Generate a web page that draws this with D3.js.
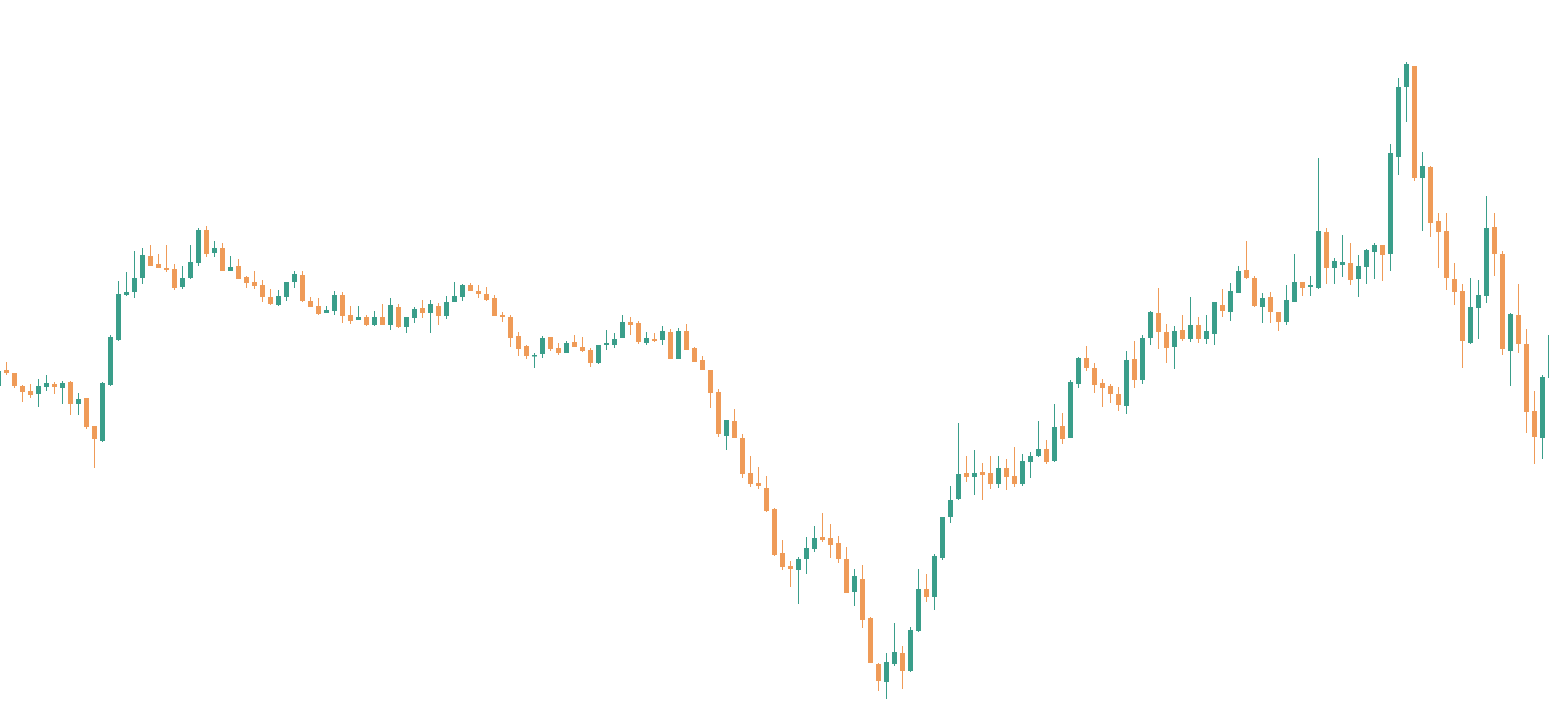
<!DOCTYPE html>
<html>
<head>
<meta charset="utf-8">
<script src="https://cdn.jsdelivr.net/npm/d3@7"></script>
<style>
html,body{margin:0;padding:0;background:#fff;overflow:hidden;}
svg{display:block;}
</style>
</head>
<body>
<svg id="chart" width="1549" height="713"></svg>
<script>
// OHLC series (price units), one entry per session
const open = [614,630,627,614,609,606,613,616,612,618,596,602,574,559,615,660,705,708,722,744,736,732,731,713,722,737,770,747,752,729,734,723,718,715,703,695,703,718,725,699,694,687,689,705,685,680,683,675,683,675,693,673,682,692,687,694,684,698,703,715,709,706,702,685,683,664,654,644,646,663,652,647,658,653,650,637,655,655,662,678,677,657,661,660,668,641,669,652,640,630,608,564,579,562,527,517,512,491,447,434,430,441,451,463,462,457,441,408,421,382,336,318,336,347,329,369,411,403,442,483,501,527,523,528,527,516,532,524,516,538,544,551,539,574,562,616,642,632,617,614,606,594,641,620,662,687,668,653,670,661,675,661,666,695,688,707,730,722,693,703,688,678,698,718,713,712,768,732,735,737,721,733,748,755,746,843,913,934,822,833,779,769,721,709,657,692,704,773,746,649,685,656,589,562,622];
const high = [629,638,627,615,616,621,625,618,619,619,607,602,574,618,665,719,728,749,752,755,746,755,736,734,755,772,774,759,757,744,741,724,729,720,711,710,718,729,729,703,702,694,709,708,694,694,685,689,696,702,696,683,693,700,700,697,704,718,716,717,715,713,705,688,685,668,655,647,664,663,657,659,665,663,652,655,670,667,685,683,679,668,667,674,671,672,676,653,644,630,611,580,591,566,544,533,524,492,460,439,443,463,474,487,476,464,453,431,435,383,337,347,377,354,373,431,426,446,483,514,577,544,550,537,544,544,541,553,546,548,579,560,596,587,620,643,654,637,621,616,613,649,659,665,689,712,676,674,685,703,683,685,698,711,717,734,759,724,707,708,688,715,746,718,724,842,772,742,765,757,745,751,757,755,856,922,938,934,848,834,787,787,737,716,722,720,804,787,749,687,716,671,609,625,665];
const low = [614,625,612,598,602,593,609,606,596,585,585,571,532,558,614,659,704,702,716,734,732,728,710,711,721,734,743,743,729,729,721,712,711,698,695,694,699,712,698,693,685,687,685,677,676,680,674,674,675,670,672,667,677,682,667,675,681,698,699,709,702,699,684,678,653,644,641,632,642,649,645,647,653,648,633,636,650,652,662,665,656,655,658,655,641,641,650,638,630,592,563,550,562,522,513,511,488,444,430,413,396,426,448,458,442,437,407,394,372,337,309,301,334,311,328,368,398,390,440,477,500,518,505,500,511,512,510,513,514,522,543,536,538,556,562,612,629,607,593,597,589,586,612,616,655,651,637,631,659,658,657,656,655,683,679,707,721,693,677,677,669,675,698,704,704,711,716,716,723,715,703,716,721,719,729,825,878,819,769,763,732,710,695,632,656,661,697,724,645,614,647,567,536,541,622];
const close = [629,627,614,608,605,614,617,613,617,596,601,573,561,617,663,706,708,722,745,734,732,730,712,722,738,770,746,752,729,733,721,717,714,703,696,704,718,726,699,693,686,690,705,684,679,683,675,683,675,695,673,683,691,687,696,684,698,704,715,709,706,700,684,683,662,651,644,645,662,651,647,657,653,649,637,655,657,661,678,675,658,662,659,669,641,669,650,638,630,607,566,580,562,526,516,514,489,445,433,431,441,452,462,460,455,441,407,424,380,337,319,338,348,329,370,411,403,444,483,500,526,523,527,525,516,532,523,516,539,544,551,538,573,561,618,642,632,615,612,606,595,640,620,662,688,668,652,669,661,675,661,669,698,689,709,729,722,694,702,688,678,700,718,712,715,769,732,739,738,720,734,750,755,745,847,913,936,822,834,777,768,722,708,659,693,705,772,746,651,686,656,588,563,623,665];

const W = 1549, H = 713;
const N = open.length;
const candles = d3.range(N).map(i => ({i, o: open[i], h: high[i], l: low[i], c: close[i]}));

const x = d3.scaleLinear().domain([0, N - 1]).range([-1.5, -1.5 + 8 * (N - 1)]);
const y = d3.scaleLinear().domain([287, 1000]).range([H, 0]);
const bodyW = 5;
const UP = "#3a9e8a", DOWN = "#ef9b58";

const svg = d3.select("#chart");
const g = svg.append("g");

const cg = g.selectAll("g.candle").data(candles).join("g").attr("class", "candle");

cg.append("line")
  .attr("x1", d => x(d.i)).attr("x2", d => x(d.i))
  .attr("y1", d => y(d.h)).attr("y2", d => y(d.l))
  .attr("stroke", d => d.c >= d.o ? UP : DOWN)
  .attr("stroke-width", 1);

cg.append("rect")
  .attr("x", d => x(d.i) - bodyW / 2)
  .attr("width", bodyW)
  .attr("y", d => y(Math.max(d.o, d.c)))
  .attr("height", d => Math.max(1.5, Math.abs(y(d.o) - y(d.c))))
  .attr("fill", d => d.c >= d.o ? UP : DOWN);
</script>
</body>
</html>
